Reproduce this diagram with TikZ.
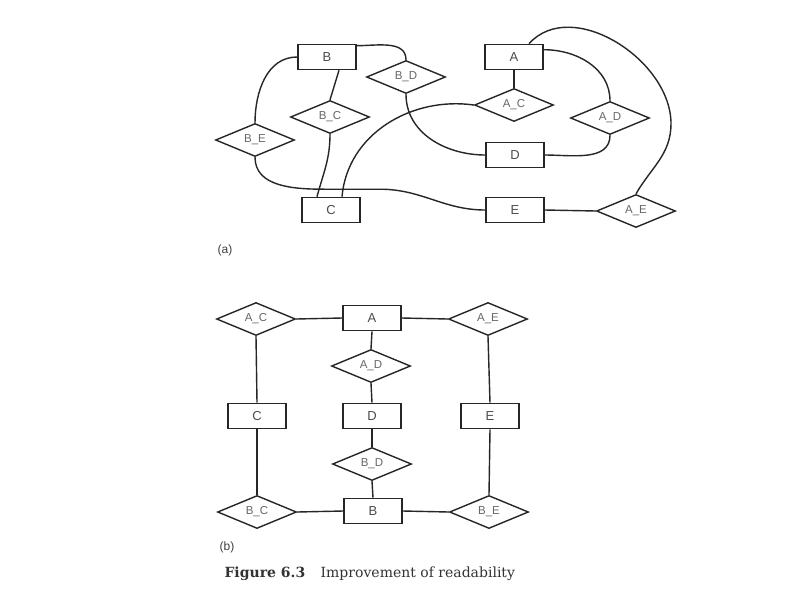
\documentclass[tikz,border=0pt]{standalone}
\usepackage{fontspec}
\setmainfont{Liberation Serif}
\setsansfont{Liberation Sans}
\newfontfamily\capfont{DejaVu Serif}
\usetikzlibrary{shapes.geometric}
\tikzset{
  entity/.style={draw, line width=1.6pt, minimum width=58pt, minimum height=25pt, inner sep=0pt,
    font=\sffamily\fontsize{13}{15}\selectfont, text=black!70},
  relship/.style={draw, diamond, aspect=2.4, line width=1.4pt, minimum width=79pt, minimum height=33pt, inner sep=0pt,
    font=\sffamily\fontsize{11.5}{13}\selectfont, text=black!60},
  link/.style={line width=1.4pt},
  tag/.style={font=\sffamily\fontsize{12}{14}\selectfont, text=black!75}
}
\begin{document}
\begin{tikzpicture}[x=1pt, y=-1pt, black!85]
\useasboundingbox[fill=white] (0,0) rectangle (800,600);
% (a) the tangled layout
\node[entity] (B1) at (327,57) {B};
\node[entity] (A1) at (514,57) {A};
\node[relship] (BD1) at (406,77) {B\_D};
\node[relship] (BC1) at (330,117) {B\_C};
\node[relship] (BE1) at (255,140) {B\_E};
\node[relship] (AC1) at (514,105) {A\_C};
\node[relship] (AD1) at (610,118) {A\_D};
\node[entity] (D1) at (515,155) {D};
\node[entity] (C1) at (331,210) {C};
\node[entity] (E1) at (515,210) {E};
\node[relship] (AE1) at (636,211) {A\_E};
\node[tag] (la) at (225,250) {(a)};
\draw[link] (B1.west) to[out=180,in=90] (BE1.north);
\draw[link] ([xshift=12pt]B1.south) -- (BC1.north);
\draw[link] ([yshift=-2pt]B1.north east) to[out=0,in=90] (BD1.north);
\draw[link] (BD1.south) to[out=-90,in=180] (D1.west);
\draw[link] (AC1.west) to[out=172,in=85] ([xshift=11pt]C1.north);
\draw[link] (BC1.south) to[out=-90,in=75] ([xshift=-14pt]C1.north);
\draw[link] (BE1.south) to[out=-90,in=180] ++(70,32) -- ++(55,0) to[out=0,in=180] (E1.west);
\draw[link] (AC1.north) -- (A1.south);
\draw[link] ([yshift=-6pt]A1.north east) to[out=0,in=90] (AD1.north);
\draw[link] (AD1.south) to[out=-90,in=0] (D1.east);
\draw[link] ([xshift=15pt]A1.north) to[out=48,in=90] ++(142,80) to[out=-90,in=60] (AE1.north);
\draw[link] (AE1.west) -- (E1.east);
% (b) the tidy layout
\node[relship] (AC2) at (256,319) {A\_C};
\node[entity] (A2) at (372,318) {A};
\node[relship] (AE2) at (488,319) {A\_E};
\node[relship] (AD2) at (371,366) {A\_D};
\node[entity] (C2) at (257,416) {C};
\node[entity] (D2) at (372,416) {D};
\node[entity] (E2) at (490,416) {E};
\node[relship] (BD2) at (372,464) {B\_D};
\node[relship] (BC2) at (257,512) {B\_C};
\node[entity] (B2) at (373,511) {B};
\node[relship] (BE2) at (489,512) {B\_E};
\node[tag] (lb) at (227,547) {(b)};
\node[anchor=west, font=\capfont\fontsize{14}{16}\selectfont, text=black!80] (cap) at (221,574) {\textbf{Figure 6.3}\hspace{1.1em}Improvement of readability};
\draw[link] (AC2.east) -- (A2.west);
\draw[link] (A2.east) -- (AE2.west);
\draw[link] (A2.south) -- (AD2.north);
\draw[link] (AD2.south) -- (D2.north);
\draw[link] (D2.south) -- (BD2.north);
\draw[link] (BD2.south) -- (B2.north);
\draw[link] (AC2.south) -- (C2.north);
\draw[link] (C2.south) -- (BC2.north);
\draw[link] (AE2.south) -- (E2.north);
\draw[link] (E2.south) -- (BE2.north);
\draw[link] (BC2.east) -- (B2.west);
\draw[link] (B2.east) -- (BE2.west);
\end{tikzpicture}
\end{document}
